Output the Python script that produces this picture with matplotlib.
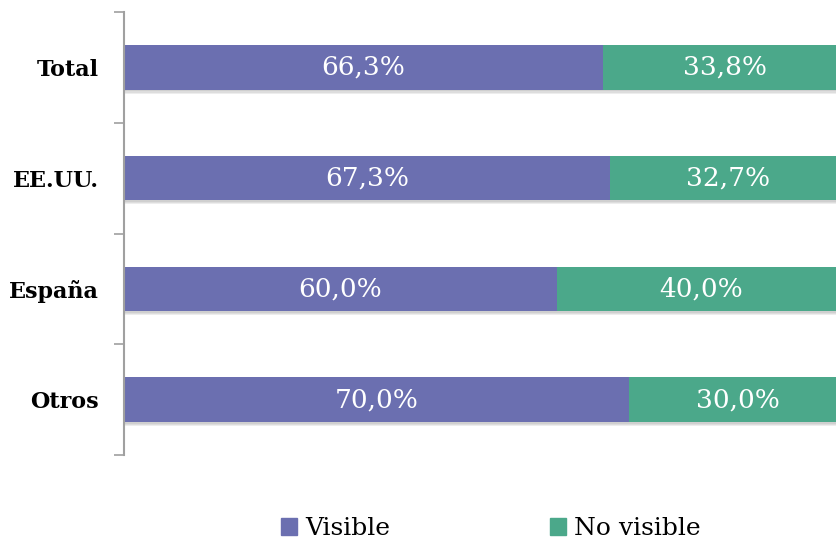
import matplotlib.pyplot as plt
import matplotlib.patheffects as pe
from matplotlib.patches import Patch
import numpy as np

# shares per group (percent)
categorias = ['Total', 'EE.UU.', 'España', 'Otros']
visible = [66.3, 67.3, 60.0, 70.0]
no_visible = [33.8, 32.7, 40.0, 30.0]
etiquetas_vis = ['66,3%', '67,3%', '60,0%', '70,0%']
etiquetas_novis = ['33,8%', '32,7%', '40,0%', '30,0%']

c_vis = '#6B6FB0'
c_novis = '#4BA88A'
plt.rcParams['font.family'] = ['DejaVu Serif']

fig = plt.figure(figsize=(8.36, 5.44), dpi=100)
ax = fig.add_axes([124/836, 89/544, 722/836, 443/544])

y = np.arange(len(categorias))
# soft shadow under each bar
sombra = [pe.SimplePatchShadow(offset=(0, -d), shadow_rgbFace='#707070', alpha=0.12)
          for d in (3.0, 2.2, 1.4)] + [pe.Normal()]
b1 = ax.barh(y, visible, height=0.4, color=c_vis, path_effects=sombra)
b2 = ax.barh(y, no_visible, left=visible, height=0.4, color=c_novis, path_effects=sombra)

for i in range(len(categorias)):
    ax.text(visible[i] / 2, y[i], etiquetas_vis[i], ha='center', va='center',
            color='white', fontsize=19)
    ax.text(visible[i] + no_visible[i] / 2, y[i], etiquetas_novis[i], ha='center',
            va='center', color='white', fontsize=19)

ax.set_xlim(0, 100)
ax.set_ylim(3.5, -0.5)
ax.set_yticks(y)
ax.set_yticklabels(categorias, fontweight='bold', fontsize=16)
ax.tick_params(axis='y', which='major', length=0, pad=18)
ax.set_yticks(np.arange(-0.5, 4.0, 1.0), minor=True)
ax.tick_params(axis='y', which='minor', length=7, width=1.2, color='#A0A0A0')
ax.set_xticks([])
for s in ['top', 'right', 'bottom']:
    ax.spines[s].set_visible(False)
ax.spines['left'].set_color('#A0A0A0')
ax.spines['left'].set_linewidth(1.5)

handles = [Patch(color=c_vis, label='Visible'), Patch(color=c_novis, label='No visible')]
fig.legend(handles=handles, loc='center', bbox_to_anchor=(0.587, 0.028), ncol=2,
           frameon=False, fontsize=18, handlelength=0.65, handleheight=0.65,
           handletextpad=0.3, columnspacing=6.4)

fig.savefig('out.png', dpi=100)
